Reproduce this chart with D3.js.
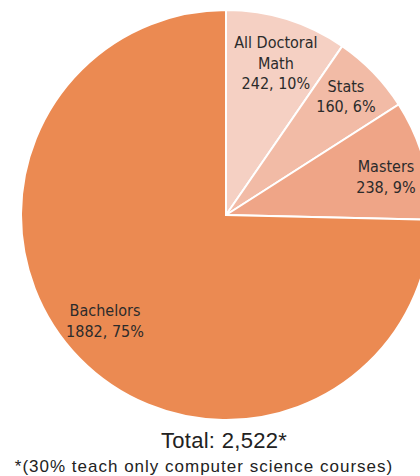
<!DOCTYPE html>
<html><head><meta charset="utf-8">
<script src="https://cdn.jsdelivr.net/npm/d3@7"></script>
<style>body{margin:0;background:#fff}svg{display:block}</style>
</head><body>
<svg id="c" width="420" height="476"></svg>
<script>
const categories = ["All Doctoral Math", "Stats", "Masters", "Bachelors"];
const labelLines = [["All Doctoral", "Math"], ["Stats"], ["Masters"], ["Bachelors"]];
const values = [242, 160, 238, 1882];
const percents = ["10%", "6%", "9%", "75%"];
const colors = ["#F5D0C3", "#F2BBA6", "#EFA587", "#EB8A52"];
const totalLabel = "Total: 2,522*";
const footnote = "*(30% teach only computer science courses)";

// layout tweaks for label placement (pixels, relative to arc centroid)
const labelNudge = [[1.5, 3.6], [2.8, -5.7], [3, 5.4], [-4.4, -8.4]];

const svg = d3.select("#c");
const cx = 226, cy = 215, R = 205, labelR = 163;
const data = categories.map((c, i) => ({c, v: values[i], i}));
const pie = d3.pie().sort(null).value(d => d.v);
const arcs = pie(data);
const arc = d3.arc().innerRadius(0).outerRadius(R);
const lab = d3.arc().innerRadius(labelR).outerRadius(labelR);
const g = svg.append("g").attr("transform", `translate(${cx},${cy})`);
g.selectAll("path").data(arcs).join("path")
  .attr("d", arc).attr("fill", d => colors[d.data.i])
  .attr("stroke", "#fff").attr("stroke-width", 2).attr("stroke-linejoin", "miter");

const lh = 20.5;
arcs.forEach(a => {
  let [x, y] = lab.centroid(a);
  x += labelNudge[a.data.i][0]; y += labelNudge[a.data.i][1];
  const lines = labelLines[a.data.i].concat([a.data.v + ", " + percents[a.data.i]]);
  const t = g.append("text").attr("text-anchor", "middle")
    .attr("font-family", "'DejaVu Sans Condensed', 'Liberation Sans Narrow', sans-serif")
    .attr("font-stretch", "condensed")
    .attr("font-size", 16).attr("fill", "#2b2b2b");
  const y0 = y - (lines.length - 1) * lh / 2 + 6;
  lines.forEach((l, k) => t.append("tspan").attr("x", x).attr("y", y0 + k * lh).text(l));
});

svg.append("text").attr("x", 224).attr("y", 448).attr("text-anchor", "middle")
  .attr("font-family", "'Liberation Sans', Arial, sans-serif").attr("font-size", 22)
  .attr("letter-spacing", 0.3).attr("fill", "#222").text(totalLabel);
svg.append("text").attr("x", 204).attr("y", 472).attr("text-anchor", "middle")
  .attr("font-family", "'Liberation Sans', Arial, sans-serif").attr("font-size", 17)
  .attr("letter-spacing", 1).attr("fill", "#222").text(footnote);
</script>
</body></html>
